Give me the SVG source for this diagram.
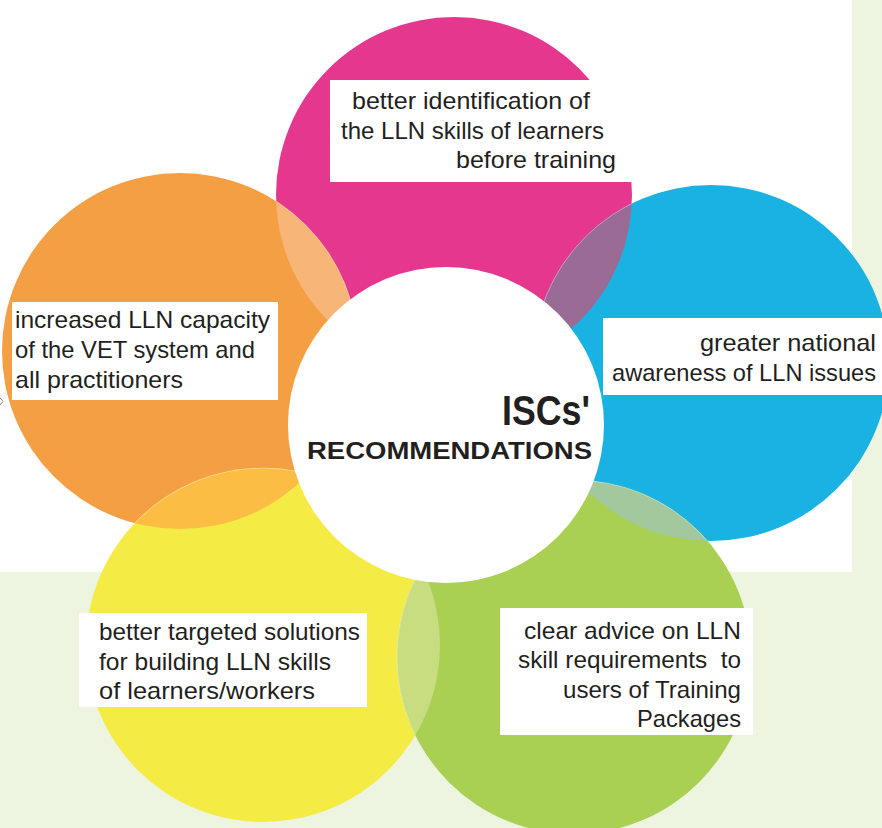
<svg xmlns="http://www.w3.org/2000/svg" width="882" height="828" viewBox="0 0 882 828">
<style>
.t{font-family:"Liberation Sans",Arial,sans-serif;font-size:24px;fill:#231f20}
.box{fill:#ffffff}
.lens{stroke:#ffffff;stroke-opacity:0.35;stroke-width:1}
.hd{font-family:"Liberation Sans",Arial,sans-serif;font-weight:bold;fill:#231f20}
</style>
<defs>
<clipPath id="cP"><circle cx="454" cy="195" r="178"/></clipPath>
<clipPath id="cO"><circle cx="180" cy="351" r="178"/></clipPath>
<clipPath id="cB"><circle cx="711" cy="363" r="178"/></clipPath>
<clipPath id="cY"><circle cx="263" cy="645" r="177"/></clipPath>
<clipPath id="cG"><circle cx="574" cy="657" r="177"/></clipPath>
</defs>
<rect x="0" y="0" width="882" height="828" fill="#edf4e0"/>
<rect x="0" y="0" width="852" height="572" fill="#ffffff"/>
<polyline points="0,398 3,401.5 0,405" fill="none" stroke="#8a8a8a" stroke-width="1"/>
<g id="circles">
<circle cx="454" cy="195" r="178" fill="#e6378f"/>
<circle cx="180" cy="351" r="178" fill="#f59f44"/>
<circle cx="711" cy="363" r="178" fill="#1ab2e2"/>
<circle cx="263" cy="645" r="177" fill="#f5eb45"/>
<circle cx="574" cy="657" r="177" fill="#a9d052"/>
<circle class="lens" cx="180" cy="351" r="178" fill="#f7b678" clip-path="url(#cP)"/>
<circle class="lens" cx="711" cy="363" r="178" fill="#9a6c95" clip-path="url(#cP)"/>
<circle class="lens" cx="574" cy="657" r="177" fill="#a3c89e" clip-path="url(#cB)"/>
<circle class="lens" cx="263" cy="645" r="177" fill="#fcbd45" clip-path="url(#cO)"/>
<circle class="lens" cx="574" cy="657" r="177" fill="#c8dc80" clip-path="url(#cY)"/>
</g>
<g id="center">
<circle cx="446" cy="425" r="158" fill="#ffffff"/>
<text class="hd" x="590" y="425" font-size="42" text-anchor="end" textLength="88" lengthAdjust="spacingAndGlyphs">ISCs'</text>
<text class="hd" x="307" y="459" font-size="24" textLength="285" lengthAdjust="spacingAndGlyphs">RECOMMENDATIONS</text>
</g>
<g id="node-pink">
<rect class="box" x="330" y="80" width="302" height="102"/>
<text class="t" x="352" y="109" textLength="238" lengthAdjust="spacingAndGlyphs">better identification of</text>
<text class="t" x="341" y="139" textLength="263" lengthAdjust="spacingAndGlyphs">the LLN skills of learners</text>
<text class="t" x="456" y="168" textLength="160" lengthAdjust="spacingAndGlyphs">before training</text>
</g>
<g id="node-blue">
<rect class="box" x="603" y="318" width="279" height="77"/>
<text class="t" x="700" y="351" textLength="176" lengthAdjust="spacingAndGlyphs">greater national</text>
<text class="t" x="612" y="381" textLength="264" lengthAdjust="spacingAndGlyphs">awareness of LLN issues</text>
</g>
<g id="node-orange">
<rect class="box" x="12" y="302" width="266" height="98"/>
<text class="t" x="15" y="328" textLength="255" lengthAdjust="spacingAndGlyphs">increased LLN capacity</text>
<text class="t" x="15" y="358" textLength="240" lengthAdjust="spacingAndGlyphs">of the VET system and</text>
<text class="t" x="15" y="388" textLength="168" lengthAdjust="spacingAndGlyphs">all practitioners</text>
</g>
<g id="node-yellow">
<rect class="box" x="79" y="613" width="288" height="94"/>
<text class="t" x="99" y="640" textLength="261" lengthAdjust="spacingAndGlyphs">better targeted solutions</text>
<text class="t" x="99" y="670" textLength="232" lengthAdjust="spacingAndGlyphs">for building LLN skills</text>
<text class="t" x="99" y="699" textLength="216" lengthAdjust="spacingAndGlyphs">of learners/workers</text>
</g>
<g id="node-green">
<rect class="box" x="500" y="608" width="253" height="127"/>
<text class="t" x="524" y="639" textLength="217" lengthAdjust="spacingAndGlyphs">clear advice on LLN</text>
<text class="t" x="518" y="668" textLength="223" lengthAdjust="spacingAndGlyphs" xml:space="preserve">skill requirements  to</text>
<text class="t" x="563" y="698" textLength="178" lengthAdjust="spacingAndGlyphs">users of Training</text>
<text class="t" x="637" y="727" textLength="104" lengthAdjust="spacingAndGlyphs">Packages</text>
</g>
<g id="connectors"/>
</svg>
